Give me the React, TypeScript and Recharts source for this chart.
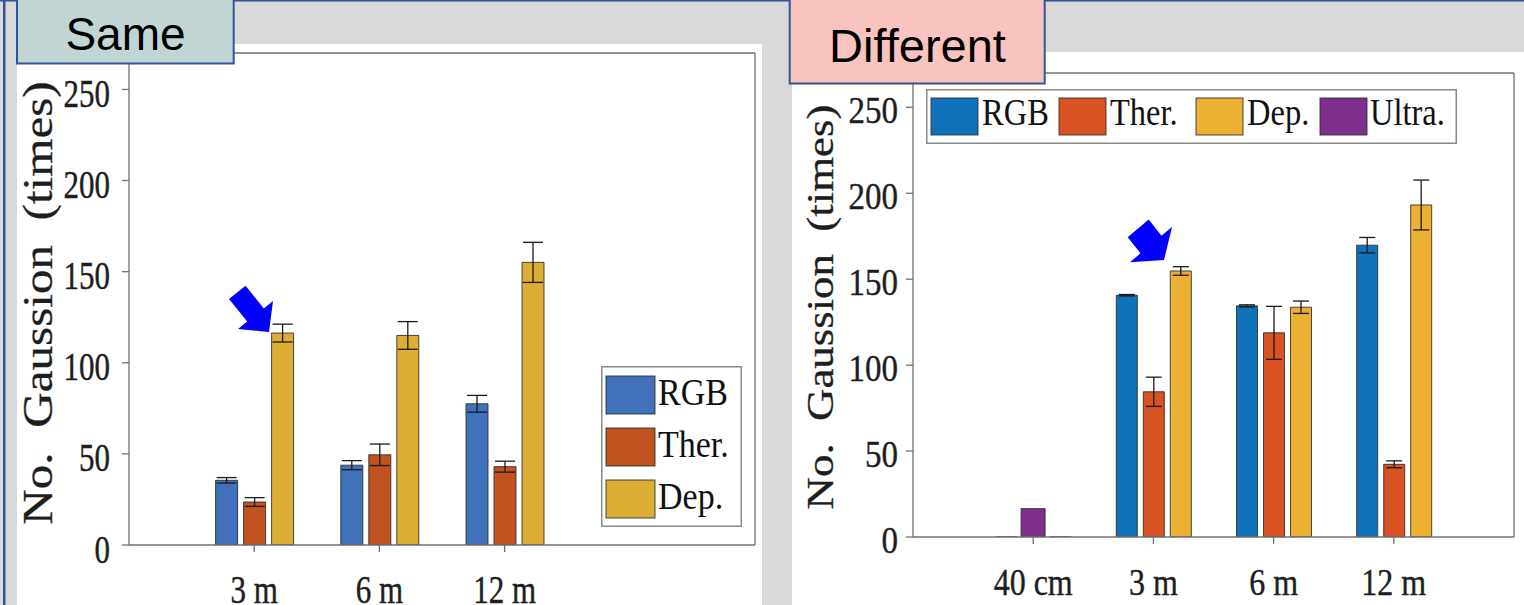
import React from 'react';
import { BarChart, Bar, XAxis, YAxis, ErrorBar, Legend } from 'recharts';

// ---------- data ----------
const leftCategories = ['3 m', '6 m', '12 m'];
const leftRGB = [35.5, 43.8, 77.5];
const leftRGBErr = [1.5, 2.5, 4.6];
const leftTher = [23.6, 49.5, 43];
const leftTherErr = [2.4, 5.9, 3];
const leftDep = [116.3, 115, 155.1];
const leftDepErr = [4.9, 7.6, 11];

const rightCategories = ['40 cm', '3 m', '6 m', '12 m'];
const rightRGB = [0, 140.7, 134.5, 169.8];
const rightRGBErr = [0, 0.4, 0.6, 4.5];
const rightTher = [0, 84.5, 118.8, 42.3];
const rightTherErr = [0, 8.5, 15.4, 2];
const rightDep = [0, 154.8, 133.7, 193.2];
const rightDepErr = [0, 2.5, 3.6, 14.5];
const rightUltra = [16.5, 0, 0, 0];

const yTicks = [0, 50, 100, 150, 200, 250];
const yDomain = [0, 270];
const xDomain = [0, 5];

const leftSeriesNames = ['RGB', 'Ther.', 'Dep.'];
const leftColors = ['#4171ba', '#c0531f', '#dcae34'];
const rightSeriesNames = ['RGB', 'Ther.', 'Dep.', 'Ultra.'];
const rightColors = ['#0f72ba', '#d85222', '#ecb033', '#7e2f8e'];

const leftData = leftCategories.map((c, i) => ({
  x: i + 1,
  rgb: leftRGB[i],
  rgbErr: leftRGBErr[i],
  ther: leftTher[i],
  therErr: leftTherErr[i],
  dep: leftDep[i],
  depErr: leftDepErr[i],
}));

const rightData = rightCategories.map((c, i) => ({
  x: i + 1,
  rgb: rightRGB[i],
  rgbErr: rightRGBErr[i],
  ther: rightTher[i],
  therErr: rightTherErr[i],
  dep: rightDep[i],
  depErr: rightDepErr[i],
  ultra: rightUltra[i],
}));

// ---------- styling helpers ----------
const SERIF = "'Liberation Serif', 'Times New Roman', 'DejaVu Serif', serif";
const SANS = "'Liberation Sans', Arial, sans-serif";
const AXIS = { stroke: '#707070', strokeWidth: 1.3 };
const BLUE_BORDER = '#2f5597';
const TEXT = '#1e1e1e';

const makeShape = (fill: string, skipZero = false) => (props: any) => {
  const { x, y, width, height } = props;
  if (x == null || !isFinite(x) || !isFinite(y) || !width) return <g />;
  const h = Math.max(0, height || 0);
  if (skipZero && h <= 0) return <g />;
  return (
    <path
      d={`M${x},${y}h${width}v${h}h${-width}Z`}
      fill={fill}
      stroke="#2a2a2a"
      strokeOpacity={0.85}
      strokeWidth={1}
    />
  );
};

const makeYTick = (fs: number, sy: number, dy: number) => (props: any) => {
  const { x, y, payload } = props;
  return (
    <g transform={`translate(${x},${y + dy})`}>
      <text
        textAnchor="end"
        fontSize={fs}
        fontFamily={SERIF}
        fill={TEXT}
        stroke={TEXT}
        strokeWidth={0.35}
        transform={`scale(1,${sy})`}
      >
        {payload.value}
      </text>
    </g>
  );
};

const makeXTick = (cats: string[], fs: number, sy: number, dy: number) => (props: any) => {
  const { x, y, payload } = props;
  const label = cats[Math.round(payload.value) - 1] ?? '';
  return (
    <g transform={`translate(${x},${y + dy})`}>
      <text
        textAnchor="middle"
        fontSize={fs}
        fontFamily={SERIF}
        fill={TEXT}
        stroke={TEXT}
        strokeWidth={0.35}
        transform={`scale(1,${sy})`}
      >
        {label}
      </text>
    </g>
  );
};

const LeftLegend = () => (
  <svg width={141} height={161} style={{ display: 'block' }}>
    <rect x={0.75} y={0.75} width={139.5} height={159.5} fill="#fff" stroke="#8a8a8a" strokeWidth={1.5} />
    {leftSeriesNames.map((n, i) => (
      <g key={n}>
        <rect x={5} y={10 + i * 52} width={49} height={38} fill={leftColors[i]} stroke="#2a2a2a" strokeOpacity={0.85} />
        <g transform={`translate(57,${39 + i * 52})`}>
          <text fontSize={34} fontFamily={SERIF} fill="#111" transform="scale(1,1.1)">
            {n}
          </text>
        </g>
      </g>
    ))}
  </svg>
);

const rightSwatchX = [5, 133, 270, 394];
const rightTextX = [56, 184, 321, 444];
const RightLegend = () => (
  <svg width={531} height={55} style={{ display: 'block' }}>
    <rect x={0.75} y={0.75} width={529.5} height={53.5} fill="#fff" stroke="#8a8a8a" strokeWidth={1.5} />
    {rightSeriesNames.map((n, i) => (
      <g key={n}>
        <rect x={rightSwatchX[i]} y={9} width={47} height={37} fill={rightColors[i]} stroke="#2a2a2a" strokeOpacity={0.85} />
        <g transform={`translate(${rightTextX[i]},36)`}>
          <text fontSize={32.5} fontFamily={SERIF} fill="#111" transform="scale(1,1.15)">
            {n}
          </text>
        </g>
      </g>
    ))}
  </svg>
);

// ---------- charts ----------
const LeftChart = () => (
  <BarChart
    width={770}
    height={605}
    data={leftData}
    margin={{ top: 43, right: 5, bottom: 10, left: 69 }}
    barGap={6}
    barSize={22}
  >
    <XAxis
      dataKey="x"
      type="number"
      domain={xDomain}
      ticks={[1, 2, 3]}
      interval={0}
      height={50}
      tickSize={7}
      tickMargin={0}
      axisLine={AXIS}
      tickLine={AXIS}
      tick={makeXTick(leftCategories, 31, 1.28, 51)}
      allowDataOverflow
    />
    <XAxis
      xAxisId="top"
      orientation="top"
      type="number"
      domain={xDomain}
      ticks={[1, 2, 3]}
      interval={0}
      height={10}
      tickSize={7}
      axisLine={AXIS}
      tickLine={AXIS}
      tick={false}
      allowDataOverflow
    />
    <YAxis
      type="number"
      domain={yDomain}
      ticks={yTicks}
      interval={0}
      width={60}
      tickSize={7}
      tickMargin={12}
      axisLine={AXIS}
      tickLine={AXIS}
      tick={makeYTick(31, 1.32, 17.5)}
      allowDataOverflow
    />
    <YAxis
      yAxisId="r"
      orientation="right"
      type="number"
      domain={yDomain}
      ticks={yTicks}
      interval={0}
      width={10}
      tickSize={7}
      axisLine={AXIS}
      tickLine={AXIS}
      tick={false}
      allowDataOverflow
    />
    <Bar dataKey="rgb" fill={leftColors[0]} isAnimationActive={false} shape={makeShape(leftColors[0])}>
      <ErrorBar dataKey="rgbErr" width={10} stroke="#1a1a1a" strokeWidth={1.3} />
    </Bar>
    <Bar dataKey="ther" fill={leftColors[1]} isAnimationActive={false} shape={makeShape(leftColors[1])}>
      <ErrorBar dataKey="therErr" width={10} stroke="#1a1a1a" strokeWidth={1.3} />
    </Bar>
    <Bar dataKey="dep" fill={leftColors[2]} isAnimationActive={false} shape={makeShape(leftColors[2])}>
      <ErrorBar dataKey="depErr" width={10} stroke="#1a1a1a" strokeWidth={1.3} />
    </Bar>
    <Legend
      verticalAlign="middle"
      align="center"
      layout="horizontal"
      content={() => <LeftLegend />}
      wrapperStyle={{ left: 601, top: 366, width: 141, height: 161, margin: 0, padding: 0 }}
    />
  </BarChart>
);

const RightChart = () => (
  <BarChart
    width={754}
    height={605}
    data={rightData}
    margin={{ top: 63, right: 2, bottom: 18, left: 83 }}
    barGap={6}
    barSize={21}
  >
    <XAxis
      dataKey="x"
      type="number"
      domain={xDomain}
      ticks={[1, 2, 3, 4]}
      interval={0}
      height={50}
      tickSize={7}
      tickMargin={0}
      axisLine={AXIS}
      tickLine={AXIS}
      tick={makeXTick(rightCategories, 32, 1.17, 51)}
      allowDataOverflow
    />
    <XAxis
      xAxisId="top"
      orientation="top"
      type="number"
      domain={xDomain}
      ticks={[1, 2, 3, 4]}
      interval={0}
      height={10}
      tickSize={7}
      axisLine={AXIS}
      tickLine={AXIS}
      tick={false}
      allowDataOverflow
    />
    <XAxis xAxisId="u" dataKey="x" type="number" domain={xDomain} ticks={[1, 2, 3, 4]} hide allowDataOverflow />
    <YAxis
      type="number"
      domain={yDomain}
      ticks={yTicks}
      interval={0}
      width={60}
      tickSize={7}
      tickMargin={8}
      axisLine={AXIS}
      tickLine={AXIS}
      tick={makeYTick(33, 1.17, 16)}
      allowDataOverflow
    />
    <YAxis
      yAxisId="r"
      orientation="right"
      type="number"
      domain={yDomain}
      ticks={yTicks}
      interval={0}
      width={8}
      tickSize={7}
      axisLine={AXIS}
      tickLine={AXIS}
      tick={false}
      allowDataOverflow
    />
    <Bar dataKey="rgb" fill={rightColors[0]} isAnimationActive={false} shape={makeShape(rightColors[0])}>
      <ErrorBar dataKey="rgbErr" width={8} stroke="#1a1a1a" strokeWidth={1.3} />
    </Bar>
    <Bar dataKey="ther" fill={rightColors[1]} isAnimationActive={false} shape={makeShape(rightColors[1])}>
      <ErrorBar dataKey="therErr" width={8} stroke="#1a1a1a" strokeWidth={1.3} />
    </Bar>
    <Bar dataKey="dep" fill={rightColors[2]} isAnimationActive={false} shape={makeShape(rightColors[2])}>
      <ErrorBar dataKey="depErr" width={8} stroke="#1a1a1a" strokeWidth={1.3} />
    </Bar>
    <Bar
      dataKey="ultra"
      xAxisId="u"
      barSize={24}
      fill={rightColors[3]}
      isAnimationActive={false}
      shape={makeShape(rightColors[3], true)}
    />
    <Legend
      verticalAlign="middle"
      align="center"
      layout="horizontal"
      content={() => <RightLegend />}
      wrapperStyle={{ left: 156, top: 89, width: 531, height: 55, margin: 0, padding: 0 }}
    />
  </BarChart>
);

// ---------- page ----------
export default function App() {
  return (
    <div
      style={{
        position: 'absolute',
        left: 0,
        top: 0,
        width: 1524,
        height: 605,
        background: '#d9d9d9',
        overflow: 'hidden',
      }}
    >
      <div style={{ position: 'absolute', left: 17, top: 44, width: 745, height: 561, background: '#fff' }} />
      <div style={{ position: 'absolute', left: 792, top: 52, width: 732, height: 553, background: '#fff' }} />

      <div style={{ position: 'absolute', left: 0, top: 0, width: 770, height: 605 }}>
        <LeftChart />
      </div>
      <div style={{ position: 'absolute', left: 770, top: 0, width: 754, height: 605 }}>
        <RightChart />
      </div>

      <svg
        width={1524}
        height={605}
        style={{ position: 'absolute', left: 0, top: 0, pointerEvents: 'none' }}
      >
        {/* y axis titles */}
        <g transform="translate(52,303) rotate(-90)">
          <text
            transform="scale(1.17,1)"
            textAnchor="middle"
            fontSize={42}
            fontFamily={SERIF}
            fill={TEXT}
            stroke={TEXT}
            strokeWidth={0.3}
          >
            {'No.\u2002Gaussion\u2002(times)'}
          </text>
        </g>
        <g transform="translate(833,307) rotate(-90)">
          <text
            transform="scale(1.15,1)"
            textAnchor="middle"
            fontSize={39}
            fontFamily={SERIF}
            fill={TEXT}
            stroke={TEXT}
            strokeWidth={0.3}
          >
            {'No.\u2002Gaussion\u2002(times)'}
          </text>
        </g>

        {/* slide borders */}
        <rect x={0} y={0} width={1524} height={1.5} fill={BLUE_BORDER} />
        <rect x={3} y={0} width={2.5} height={605} fill={BLUE_BORDER} />

        {/* title boxes */}
        <rect x={17} y={-1} width={216.7} height={64.5} fill="#c1d6d4" stroke={BLUE_BORDER} strokeWidth={2} />
        <text x={125.5} y={50} textAnchor="middle" fontSize={46} fontFamily={SANS} fill="#000">
          Same
        </text>
        <rect x={789.7} y={-1} width={255} height={84.5} fill="#f9c4c0" stroke={BLUE_BORDER} strokeWidth={2} />
        <text x={917.5} y={62} textAnchor="middle" fontSize={47} fontFamily={SANS} fill="#000">
          Different
        </text>

        {/* annotation arrows */}
        <polygon
          points="269,332 273,301 263.8,308.4 245.6,285.7 229,298.9 247.2,321.6 238,329"
          fill="#0000ff"
        />
        <polygon
          points="1164,260 1172.1,226.8 1161.5,235.7 1148.7,219.6 1127.7,237.2 1140.5,253.3 1129.9,262.2"
          fill="#0000ff"
        />
      </svg>
    </div>
  );
}
